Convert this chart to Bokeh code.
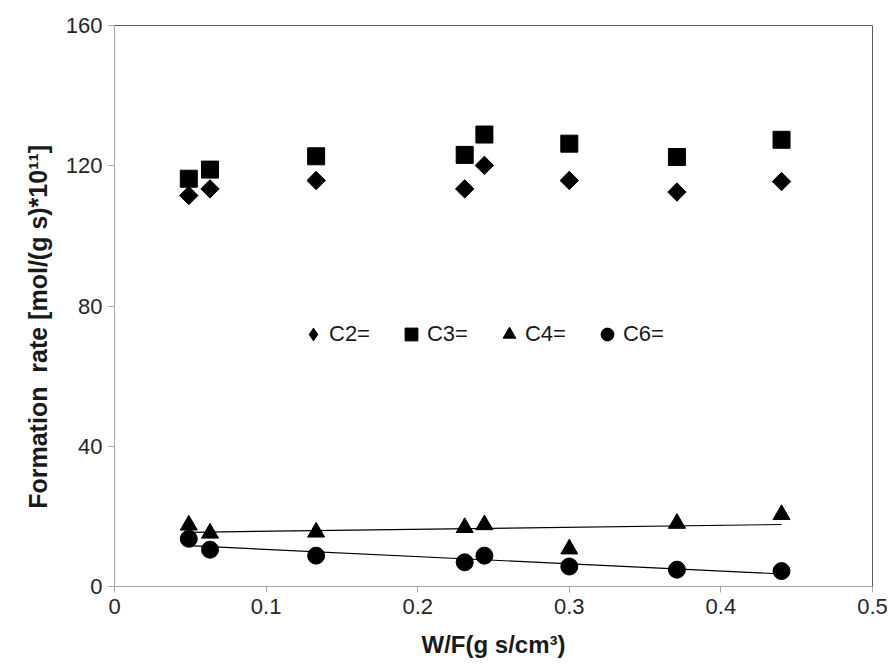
import numpy as np
from bokeh.plotting import figure
from bokeh.models import Legend, LegendItem, FixedTicker, Range1d
from bokeh.embed import file_html
from bokeh.resources import INLINE

# Data
wf = [0.049, 0.063, 0.133, 0.231, 0.244, 0.300, 0.371, 0.440]
c2 = [111.5, 113.4, 115.8, 113.4, 120.1, 115.8, 112.5, 115.5]
c3 = [116.3, 118.9, 122.7, 123.1, 128.9, 126.3, 122.5, 127.4]
c4 = [17.5, 15.2, 15.5, 16.8, 17.6, 10.7, 18.0, 20.5]
c6 = [13.6, 10.5, 8.8, 6.9, 8.8, 5.7, 4.8, 4.4]

x_ticks = [0, 0.1, 0.2, 0.3, 0.4, 0.5]
x_tick_labels = ["0", "0.1", "0.2", "0.3", "0.4", "0.5"]
y_ticks = [0, 40, 80, 120, 160]

FONT = "Liberation Sans"

p = figure(width=894, height=671, output_backend="svg", toolbar_location=None,
           x_range=Range1d(0, 0.5), y_range=Range1d(0, 160),
           min_border_left=114, min_border_right=22, min_border_top=25, min_border_bottom=85)
p.background_fill_color = "white"
p.border_fill_color = "white"
p.grid.visible = False
p.outline_line_color = "#5a5a5a"
p.outline_line_width = 1

for ax in (p.xaxis, p.yaxis):
    ax.axis_line_color = "#A6A6A6"
    ax.major_tick_line_color = "#A6A6A6"
    ax.minor_tick_line_color = None
    ax.major_tick_in = 0
    ax.major_tick_out = 6
    ax.major_label_text_font = FONT
    ax.major_label_text_font_size = "22px"
    ax.major_label_text_color = "#262626"
    ax.axis_label_text_font = FONT
    ax.axis_label_text_font_style = "bold"
    ax.axis_label_text_color = "#1a1a1a"

p.xaxis.axis_label_text_font_size = "24px"
p.yaxis.axis_label_text_font_size = "25px"
p.xaxis.ticker = FixedTicker(ticks=x_ticks)
p.xaxis.major_label_overrides = {t: l for t, l in zip(x_ticks, x_tick_labels)}
p.yaxis.ticker = FixedTicker(ticks=y_ticks)
p.xaxis.axis_label = "W/F(g s/cm³)"
p.yaxis.axis_label = "Formation\u00a0\u00a0rate [mol/(g s)*10¹¹]" + "\u00a0" * 6
p.xaxis.major_label_standoff = 6
p.yaxis.major_label_standoff = 6
p.xaxis.axis_label_standoff = 14
p.yaxis.axis_label_standoff = 11

# trend lines (least squares fits over the data range)
xs = np.array([min(wf), max(wf)])
k4, b4 = np.polyfit(wf, c4, 1)
k6, b6 = np.polyfit(wf, c6, 1)
p.line(xs, k4 * xs + b4, line_color="black", line_width=1.2)
p.line(xs, k6 * xs + b6, line_color="black", line_width=1.2)

# narrow diamond marker (hidden under the rotated square) provides the legend glyph
r2_leg = p.scatter(wf, c2, marker="diamond", size=17, color="black")
r2 = p.scatter(wf, c2, marker="square", angle=np.pi / 4, size=13, color="black")
r3 = p.scatter(wf, c3, marker="square", size=17, color="black")
r4 = p.scatter(wf, c4, marker="triangle", size=17, color="black")
r6 = p.scatter(wf, c6, marker="circle", size=17, color="black")

legend = Legend(items=[LegendItem(label="C2=", renderers=[r2_leg]),
                       LegendItem(label="C3=", renderers=[r3]),
                       LegendItem(label="C4=", renderers=[r4]),
                       LegendItem(label="C6=", renderers=[r6])],
                orientation="horizontal", location=(183, 236),
                label_text_font=FONT, label_text_font_size="22px",
                label_text_color="#1a1a1a",
                glyph_width=32, glyph_height=32, spacing=25, label_standoff=-6,
                border_line_color=None, background_fill_alpha=0)
p.add_layout(legend)

open("out.html", "w").write(file_html(p, INLINE))
